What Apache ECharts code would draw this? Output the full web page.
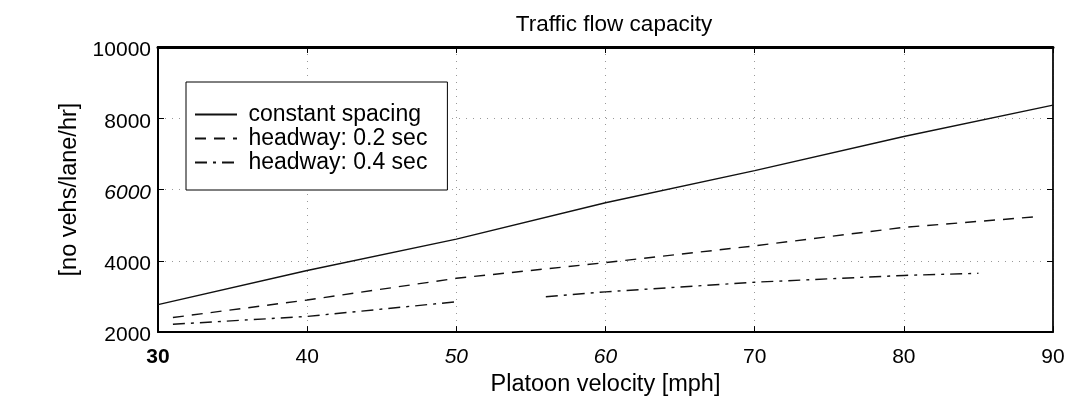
<!DOCTYPE html>
<html><head><meta charset="utf-8">
<script src="https://cdn.jsdelivr.net/npm/echarts@6/dist/echarts.min.js"></script>
<style>html,body{margin:0;padding:0;background:#fff}#c{width:1072px;height:402px}</style>
</head><body><div id="c"></div>
<script>
const title = 'Traffic flow capacity';
const xName = 'Platoon velocity [mph]';
const yName = '[no vehs/lane/hr]';
const seriesNames = ['constant spacing', 'headway: 0.2 sec', 'headway: 0.4 sec'];
const constX = [30, 40, 50, 60, 70, 80, 90];
const constY = [2770, 3730, 4610, 5630, 6530, 7490, 8370];
const h02X = [31, 40, 50, 60, 70, 80, 89];
const h02Y = [2410, 2900, 3510, 3950, 4420, 4940, 5240];
const h04X = [31, 40, 50, null, 56, 60, 70, 80, 85];
const h04Y = [2220, 2440, 2850, null, 2990, 3130, 3400, 3590, 3650];

function pairs(xs, ys){ return xs.map((x,i)=> x===null ? [null,null] : [x, ys[i]]); }

const font = 'Liberation Sans, Arial, sans-serif';
const lab = {fontFamily:font, fontSize:21, color:'#000'};
const chart = echarts.init(document.getElementById('c'));
chart.setOption({
  animation:false,
  backgroundColor:'#fff',
  title:{text:title, left:609, top:8, textAlign:'center', textStyle:{fontFamily:font, fontSize:22.5, fontWeight:'normal', color:'#000'}},
  legend:{
    orient:'vertical', left:186, top:82,
    backgroundColor:'#fff', borderColor:'#000', borderWidth:1,
    padding:[21,20,16,8], itemGap:1, itemWidth:42, itemHeight:14,
    data: seriesNames,
    formatter: n => ' ' + n,
    itemStyle:{opacity:0},
    textStyle:{fontFamily:font, fontSize:23, lineHeight:23, color:'#000'}
  },
  grid:{left:158, right:19, top:47, bottom:64, show:true, borderColor:'#000', borderWidth:1},
  xAxis:[{
    type:'value', min:30, max:90, interval:10,
    name:xName, nameLocation:'middle', nameGap:33,
    nameTextStyle:{fontFamily:font, fontSize:23.5, color:'#000'},
    axisLine:{lineStyle:{color:'#000', width:2}},
    axisTick:{inside:true, length:6, lineStyle:{color:'#000'}},
    axisLabel:{fontFamily:font, fontSize:21, color:'#000', margin:15,
      formatter:v=> v===30 ? '{b|30}' : (v===50||v===60 ? '{i|'+v+'}' : ''+v),
      rich:{b:Object.assign({}, lab, {fontWeight:'bold'}), i:Object.assign({}, lab, {fontStyle:'italic'})}},
    splitLine:{show:true, lineStyle:{color:'#999', type:[1,6], width:1}}
  },{
    type:'value', min:30, max:90, interval:10, position:'top',
    axisLine:{lineStyle:{color:'#000', width:3}},
    axisTick:{inside:true, length:6, lineStyle:{color:'#000'}},
    axisLabel:{show:false}, splitLine:{show:false}
  }],
  yAxis:[{
    type:'value', min:2000, max:10000, interval:2000,
    name:yName, nameLocation:'middle', nameGap:72, nameRotate:90,
    nameTextStyle:{fontFamily:font, fontSize:23.5, color:'#000'},
    axisLine:{show:true, lineStyle:{color:'#000', width:2}},
    axisTick:{show:true, inside:true, length:6, lineStyle:{color:'#000'}},
    axisLabel:{fontFamily:font, fontSize:21, color:'#000', margin:7, padding:[7,0,0,0],
      formatter:v=> v===6000 ? '{i|6000}' : ''+v,
      rich:{i:Object.assign({}, lab, {fontStyle:'italic'})}},
    splitLine:{show:true, lineStyle:{color:'#999', type:[1,6], width:1}}
  },{
    type:'value', min:2000, max:10000, interval:2000, position:'right',
    axisLine:{show:true, lineStyle:{color:'#000', width:1.5}},
    axisTick:{show:true, inside:true, length:6, lineStyle:{color:'#000'}},
    axisLabel:{show:false}, splitLine:{show:false}
  }],
  series:[
    {name:seriesNames[0], type:'line', data:pairs(constX,constY), symbol:'none', connectNulls:false,
     lineStyle:{color:'#111', width:1.4, type:'solid'}, itemStyle:{color:'#111'}},
    {name:seriesNames[1], type:'line', data:pairs(h02X,h02Y), symbol:'none', connectNulls:false,
     lineStyle:{color:'#111', width:1.4, type:[11,8]}, itemStyle:{color:'#111'}},
    {name:seriesNames[2], type:'line', data:pairs(h04X,h04Y), symbol:'none', connectNulls:false,
     lineStyle:{color:'#111', width:1.4, type:[12,6,3,6]}, itemStyle:{color:'#111'}}
  ]
});
</script></body></html>
